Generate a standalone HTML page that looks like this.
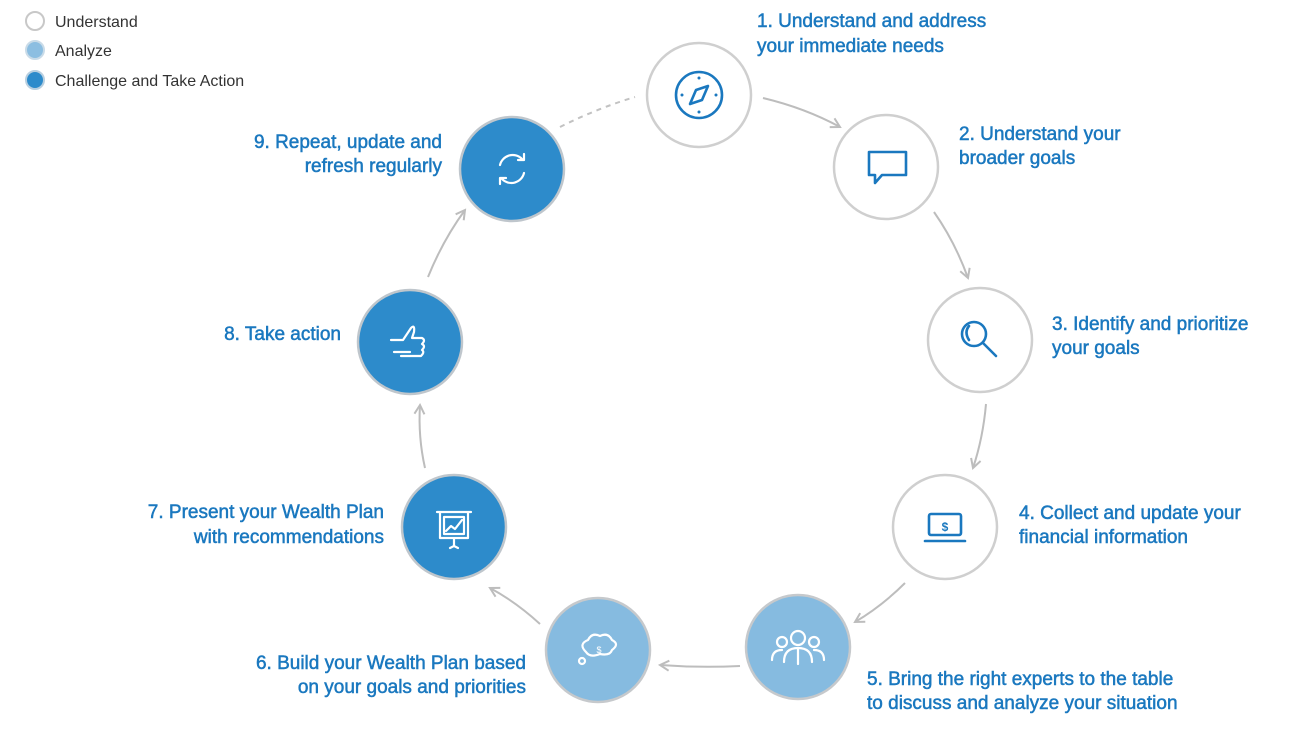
<!DOCTYPE html>
<html><head><meta charset="utf-8"><style>
html,body{margin:0;padding:0;background:#fff;}
svg{display:block;font-family:"Liberation Sans",sans-serif;}
.t{fill:#1a78bf;font-size:19px;stroke:#1a78bf;stroke-width:0.5px;}
.l{fill:#333;font-size:16px;}
.a{fill:none;stroke:#bdbdbd;stroke-width:2;}
.w{fill:none;stroke:#fff;stroke-width:2.2;stroke-linecap:round;stroke-linejoin:round;}
.b{fill:none;stroke:#1a78bf;stroke-width:2.6;stroke-linecap:round;stroke-linejoin:round;}
</style></head><body>
<svg width="1297" height="738" viewBox="0 0 1297 738">
<defs><marker id="m" viewBox="0 0 12 12" refX="10" refY="6" markerWidth="12" markerHeight="12" markerUnits="userSpaceOnUse" orient="auto"><path d="M1,1 L10,6 L1,11" fill="none" stroke="#bdbdbd" stroke-width="2"/></marker></defs>
<circle cx="35" cy="21" r="9" fill="#fff" stroke="#c8c8c8" stroke-width="2"/>
<circle cx="35" cy="50" r="9" fill="#8cbee1" stroke="#c9dbe8" stroke-width="2"/>
<circle cx="35" cy="80" r="9" fill="#2d8bcb" stroke="#b8cfe0" stroke-width="2"/>
<text class="l" x="55" y="27">Understand</text>
<text class="l" x="55" y="56">Analyze</text>
<text class="l" x="55" y="86">Challenge and Take Action</text>
<path class="a" d="M763,98 Q805,108 840,127" marker-end="url(#m)"/>
<path class="a" d="M934,212 Q955,242 968,278" marker-end="url(#m)"/>
<path class="a" d="M986,404 Q983,438 973,468" marker-end="url(#m)"/>
<path class="a" d="M905,583 Q882,606 855,622" marker-end="url(#m)"/>
<path class="a" d="M740,666 Q700,668 660,665" marker-end="url(#m)"/>
<path class="a" d="M540,624 Q516,602 490,588" marker-end="url(#m)"/>
<path class="a" d="M425,468 Q418,437 420,405" marker-end="url(#m)"/>
<path class="a" d="M428,277 Q443,240 465,210" marker-end="url(#m)"/>
<path d="M560,127 Q598,108 635,97" fill="none" stroke="#c2c2c2" stroke-width="2" stroke-dasharray="5,5"/>
<circle cx="699" cy="95" r="52" fill="#fff" stroke="#cfcfcf" stroke-width="2.5"/>
<circle cx="886" cy="167" r="52" fill="#fff" stroke="#cfcfcf" stroke-width="2.5"/>
<circle cx="980" cy="340" r="52" fill="#fff" stroke="#cfcfcf" stroke-width="2.5"/>
<circle cx="945" cy="527" r="52" fill="#fff" stroke="#cfcfcf" stroke-width="2.5"/>
<circle cx="798" cy="647" r="52" fill="#86bbe0" stroke="#c6c9cc" stroke-width="2.5"/>
<circle cx="598" cy="650" r="52" fill="#86bbe0" stroke="#c6c9cc" stroke-width="2.5"/>
<circle cx="454" cy="527" r="52" fill="#2d8bcb" stroke="#bfc6cc" stroke-width="2.5"/>
<circle cx="410" cy="342" r="52" fill="#2d8bcb" stroke="#bfc6cc" stroke-width="2.5"/>
<circle cx="512" cy="169" r="52" fill="#2d8bcb" stroke="#bfc6cc" stroke-width="2.5"/>
<circle class="b" cx="699" cy="95" r="23"/>
<circle cx="699" cy="78" r="1.5" fill="#1a78bf"/><circle cx="699" cy="112" r="1.5" fill="#1a78bf"/><circle cx="682" cy="95" r="1.5" fill="#1a78bf"/><circle cx="716" cy="95" r="1.5" fill="#1a78bf"/>
<path class="b" d="M708,86 L702,100 L690,104 L696,90 Z"/>
<path class="b" d="M869,152 h37 v23 h-24 l-7,8 v-8 h-6 z"/>
<circle class="b" cx="974" cy="334" r="12"/><path class="b" d="M983,343 l13,13"/><path class="b" d="M969,326 q-5,6 0,14"/>
<rect class="b" x="929" y="514" width="32" height="21" rx="2"/><path class="b" d="M925,541 h40"/>
<text x="945" y="531" font-size="12" font-weight="bold" fill="#1a78bf" text-anchor="middle">$</text>
<circle class="w" cx="798" cy="638" r="7"/><path class="w" d="M784,662 q0,-14 14,-14 q14,0 14,14 M798,648 v16"/>
<circle class="w" cx="782" cy="642" r="5"/><circle class="w" cx="814" cy="642" r="5"/><path class="w" d="M772,660 q0,-10 10,-10 M824,660 q0,-10 -10,-10"/>
<path class="w" d="M586,652 q-8,-8 2,-12 q4,-8 12,-4 q8,-4 12,4 q8,4 0,10 q-2,6 -12,4 q-10,4 -14,-2z"/><circle class="w" cx="582" cy="661" r="3"/>
<text x="599" y="653" font-size="9" fill="#fff" text-anchor="middle">$</text>
<path class="w" d="M437,512 h34 M440,513 v25 h28 v-25 M444,517 h20 v17 h-20z M446,531 l5,-5 l4,3 l7,-9 M454,538 v8 M450,548 l4,-2 l4,2"/>
<path class="w" d="M391,340 h12 l8,-12 q4,-4 3,4 l-2,6 h10 q4,2 0,6 q4,2 0,6 q3,2 -1,6 h-20 M394,352 h16"/>
<path class="w" d="M500,165 a13,13 0 0 1 22,-6 M524,154 v6 h-6 M524,173 a13,13 0 0 1 -22,6 M500,184 v-6 h6"/>
<text class="t" x="757" y="27">1. Understand and address</text>
<text class="t" x="757" y="52">your immediate needs</text>
<text class="t" x="959" y="140">2. Understand your</text>
<text class="t" x="959" y="164">broader goals</text>
<text class="t" x="1052" y="330">3. Identify and prioritize</text>
<text class="t" x="1052" y="354">your goals</text>
<text class="t" x="1019" y="519">4. Collect and update your</text>
<text class="t" x="1019" y="543">financial information</text>
<text class="t" x="867" y="685">5. Bring the right experts to the table</text>
<text class="t" x="867" y="709">to discuss and analyze your situation</text>
<text class="t" x="526" y="669" text-anchor="end">6. Build your Wealth Plan based</text>
<text class="t" x="526" y="693" text-anchor="end">on your goals and priorities</text>
<text class="t" x="384" y="518" text-anchor="end">7. Present your Wealth Plan</text>
<text class="t" x="384" y="543" text-anchor="end">with recommendations</text>
<text class="t" x="341" y="340" text-anchor="end">8. Take action</text>
<text class="t" x="442" y="148" text-anchor="end">9. Repeat, update and</text>
<text class="t" x="442" y="172" text-anchor="end">refresh regularly</text>
</svg>
</body></html>
